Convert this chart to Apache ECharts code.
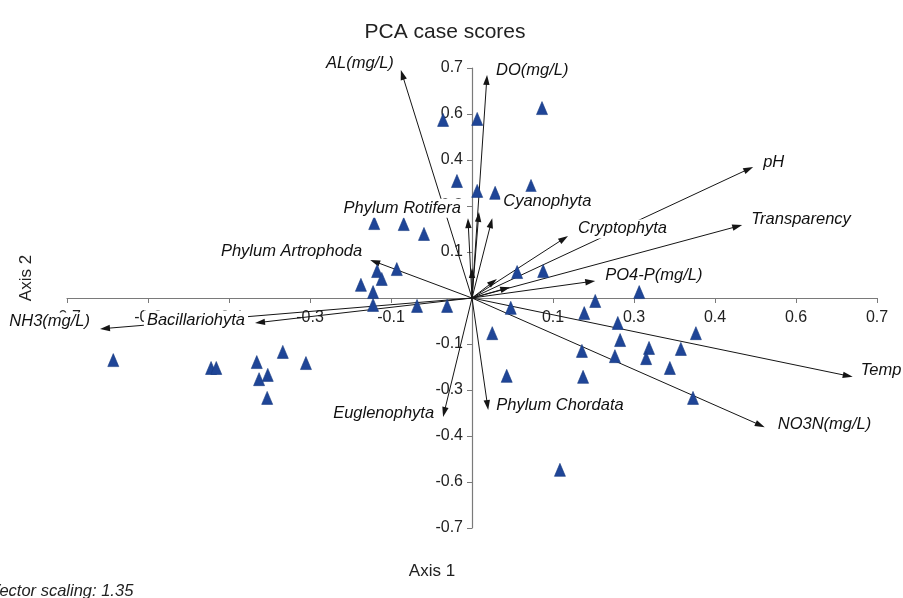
<!DOCTYPE html>
<html><head><meta charset="utf-8">
<script src="https://cdn.jsdelivr.net/npm/echarts@6/dist/echarts.min.js"></script>
<style>html,body{margin:0;padding:0;background:#fff}#c{width:903px;height:598px}</style>
</head><body><div id="c"></div>
<script>
// Case scores (Axis 1, Axis 2)
const caseX = [-0.620,-0.451,-0.442,-0.372,-0.327,-0.287,-0.368,-0.353,-0.354,-0.169,-0.118,-0.083,-0.164,-0.156,-0.130,-0.192,-0.171,-0.171,-0.095,-0.043,0.009,-0.050,0.121,-0.026,0.009,0.040,0.102,0.078,0.123,0.213,0.289,0.067,0.194,0.252,0.387,0.035,0.256,0.190,0.306,0.301,0.361,0.247,0.342,0.060,0.192,0.382,0.152];
const caseY = [-0.189,-0.213,-0.213,-0.195,-0.164,-0.198,-0.247,-0.234,-0.304,0.228,0.225,0.195,0.082,0.058,0.088,0.040,0.018,-0.021,-0.024,-0.024,0.545,0.542,0.578,0.356,0.326,0.320,0.341,0.079,0.082,-0.009,0.018,-0.030,-0.046,-0.076,-0.107,-0.107,-0.128,-0.161,-0.152,-0.183,-0.155,-0.177,-0.213,-0.237,-0.240,-0.304,-0.523];
// Variable vectors
const vectorNames = ['AL(mg/L)','DO(mg/L)','Phylum Rotifera','','Cyanophyta','','Cryptophyta','pH','Transparency','PO4-P(mg/L)','','','Temp','NO3N(mg/L)','Phylum Chordata','Euglenophyta','NH3(mg/L)','Bacillariohyta','Phylum Artrophoda'];
const vectorX = [-0.123,0.026,-0.007,0.012,0.035,0.000,0.166,0.486,0.467,0.213,0.043,0.066,0.658,0.506,0.028,-0.050,-0.643,-0.375,-0.176];
const vectorY = [0.694,0.679,0.243,0.262,0.243,0.091,0.189,0.399,0.222,0.052,0.058,0.033,-0.240,-0.393,-0.341,-0.362,-0.094,-0.076,0.116];
// Axis ticks
const tickValues = [-0.7,-0.56,-0.42,-0.28,-0.14,0,0.14,0.28,0.42,0.56,0.7];
const tickLabels = ['-0.7','-0.6','-0.4','-0.3','-0.1','','0.1','0.3','0.4','0.6','0.7'];

function tickText(v){
  let best = 0, bd = 1e9;
  tickValues.forEach((t,i)=>{ const d=Math.abs(t-v); if(d<bd){bd=d;best=i;} });
  return tickLabels[best];
}
// label placement relative to the arrow tip (layout only)
const labelOffset = {
  'AL(mg/L)':[-4,-7], 'DO(mg/L)':[6,-4], 'Phylum Rotifera':[-4,-10], 'Cyanophyta':[8,-17],
  'Cryptophyta':[7,-7], 'pH':[7,-4], 'Transparency':[6,-6], 'PO4-P(mg/L)':[7,-6],
  'Temp':[5,-6], 'NO3N(mg/L)':[10,-3], 'Phylum Chordata':[5,-5], 'Euglenophyta':[-6,-4],
  'NH3(mg/L)':[-7,-7], 'Bacillariohyta':[-7,-3], 'Phylum Artrophoda':[-5,-8]
};
const LABEL_FONT = 'italic 16.5px "Liberation Sans", Arial, sans-serif';

const GRID = {left:67, right:26, top:68, bottom:70};
const PLOT_W = 903 - GRID.left - GRID.right;
const PLOT_H = 598 - GRID.top - GRID.bottom;

function renderVector(params, api){
  const o = api.coord([0,0]);
  const p = api.coord([api.value(0), api.value(1)]);
  const dx=p[0]-o[0], dy=p[1]-o[1];
  const L=Math.hypot(dx,dy)||1; const ux=dx/L, uy=dy/L;
  const hl=10, hw=3.2;
  const bx=p[0]-ux*hl, by=p[1]-uy*hl;
  return {type:'group', children:[
    {type:'line', shape:{x1:o[0],y1:o[1],x2:bx+ux*2,y2:by+uy*2}, style:{stroke:'#151515', lineWidth:1}},
    {type:'polygon', shape:{points:[[p[0],p[1]],[bx-uy*hw, by+ux*hw],[bx+uy*hw, by-ux*hw]]}, style:{fill:'#151515'}}
  ]};
}
function renderLabel(params, api){
  const i = api.value(2);
  const name = vectorNames[i];
  if(!name) return null;
  const p = api.coord([api.value(0), api.value(1)]);
  const right = api.value(0) >= 0;
  const off = labelOffset[name] || [right?6:-6, -6];
  return {type:'text', x:p[0]+off[0], y:p[1]+off[1], style:{
    text:name, align: right?'left':'right', verticalAlign:'middle',
    font: LABEL_FONT, fill:'#111', backgroundColor:'#ffffff', padding:[1,3]
  }};
}

const axisCommon = {
  type:'value', min:-0.7, max:0.7, interval:0.14,
  axisLine:{onZero:false, lineStyle:{color:'#7a7a7a', width:1.2}},
  axisTick:{show:true, length:5, lineStyle:{color:'#7a7a7a'}},
  splitLine:{show:false},
};
const TICK_FONT = {fontSize:16, color:'#222', fontFamily:'"Liberation Sans", Arial, sans-serif', formatter:tickText};

const vecData = vectorX.map((x,i)=>[x, vectorY[i], i]);
const chart = echarts.init(document.getElementById('c'));
chart.setOption({
  backgroundColor:'#ffffff',
  animation:false,
  title:{text:'PCA case scores', left:440, top:17, textAlign:'center',
    textStyle:{fontFamily:'"Liberation Sans", Arial, sans-serif', fontSize:21, fontWeight:'normal', color:'#222'}},
  grid:{left:GRID.left, right:GRID.right, top:GRID.top, bottom:GRID.bottom, containLabel:false, outerBoundsMode:'none'},
  xAxis: Object.assign({}, axisCommon, {
    position:'bottom', offset:-PLOT_H/2,
    axisLabel:Object.assign({margin:12}, TICK_FONT)
  }),
  yAxis: Object.assign({}, axisCommon, {
    position:'left', offset:-PLOT_W/2,
    axisLabel:Object.assign({margin:9}, TICK_FONT)
  }),
  graphic:[
    {type:'text', x:432, y:571, style:{text:'Axis 1', align:'center', verticalAlign:'middle', font:'17px "Liberation Sans", Arial, sans-serif', fill:'#222'}},
    {type:'text', x:26, y:278, rotation:Math.PI/2, style:{text:'Axis 2', align:'center', verticalAlign:'middle', font:'17px "Liberation Sans", Arial, sans-serif', fill:'#222'}},
    {type:'text', x:-11, y:591, style:{text:'Vector scaling: 1.35', align:'left', verticalAlign:'middle', font:'italic 16.5px "Liberation Sans", Arial, sans-serif', fill:'#222'}}
  ],
  series:[
    {type:'custom', name:'vectors', coordinateSystem:'cartesian2d', renderItem:renderVector, data:vecData, encode:{x:0,y:1}, z:2, silent:true},
    {type:'scatter', name:'cases', data:caseX.map((x,i)=>[x, caseY[i]]), symbol:'triangle', symbolSize:[11,13],
      itemStyle:{color:'#1f4597', borderColor:'#173a80', borderWidth:0.6, opacity:1}, z:3, silent:true},
    {type:'custom', name:'labels', coordinateSystem:'cartesian2d', renderItem:renderLabel, data:vecData, encode:{x:0,y:1}, z:4, silent:true}
  ]
});
</script>
</body></html>
